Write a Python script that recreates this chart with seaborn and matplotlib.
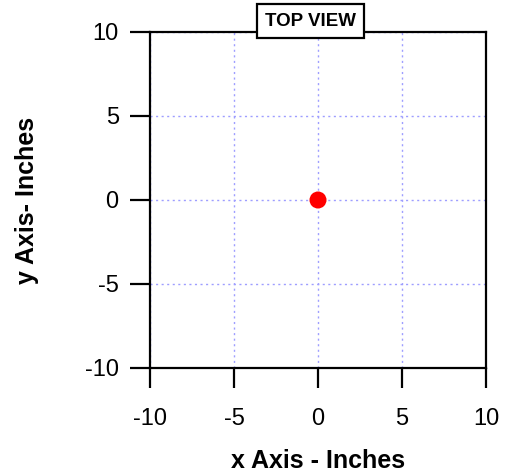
import matplotlib
matplotlib.use("Agg")
import matplotlib.pyplot as plt
import seaborn as sns
import pandas as pd

x_vals = [0.0]
y_vals = [0.0]
ticks = [-10, -5, 0, 5, 10]
title_text = "TOP VIEW"
xlabel = "x Axis - Inches"
ylabel = "y Axis- Inches"

sns.set_style("white")
plt.rcParams['font.family'] = ['Liberation Sans', 'DejaVu Sans']
plt.rcParams['text.color'] = 'black'
plt.rcParams['axes.labelcolor'] = 'black'

df = pd.DataFrame({"x": x_vals, "y": y_vals})

fig = plt.figure(figsize=(5.07, 4.75), dpi=100)
ax = fig.add_axes([150/507, (475-368)/475, (486-150)/507, (368-32)/475])

ax.grid(True, color=(0.62, 0.62, 1.0), linestyle=(0, (1.5, 2.5)), linewidth=1.0)
ax.set_axisbelow(True)

sns.scatterplot(data=df, x="x", y="y", ax=ax, s=150, color=(1, 0, 0),
                edgecolor="none", zorder=3)

ax.set_xlim(-10, 10)
ax.set_ylim(-10, 10)
ax.set_xticks(ticks)
ax.set_yticks(ticks)
ax.set_xticklabels([str(t) for t in ticks])
ax.set_yticklabels([str(t) for t in ticks])
for s in ax.spines.values():
    s.set_visible(True)
    s.set_color("black")
    s.set_linewidth(1.6)
ax.tick_params(axis="both", which="major", bottom=True, left=True,
               top=False, right=False, direction="out", length=14.5,
               width=1.6, color="black", labelsize=17, labelcolor="black")
ax.tick_params(axis="x", pad=14)
ax.tick_params(axis="y", pad=8)

ax.set_xlabel(xlabel, fontsize=18, fontweight="bold", labelpad=14, color="black")
ax.set_ylabel(ylabel, fontsize=18, fontweight="bold", labelpad=33, color="black")

fig.text(310.5/507, 1 - 21/475, title_text, ha="center", va="center",
         fontsize=13.5, fontweight="bold", color="black", zorder=10,
         bbox=dict(boxstyle="square,pad=0.45", facecolor="white",
                   edgecolor="black", linewidth=1.6))

fig.savefig("out.png", dpi=100)
